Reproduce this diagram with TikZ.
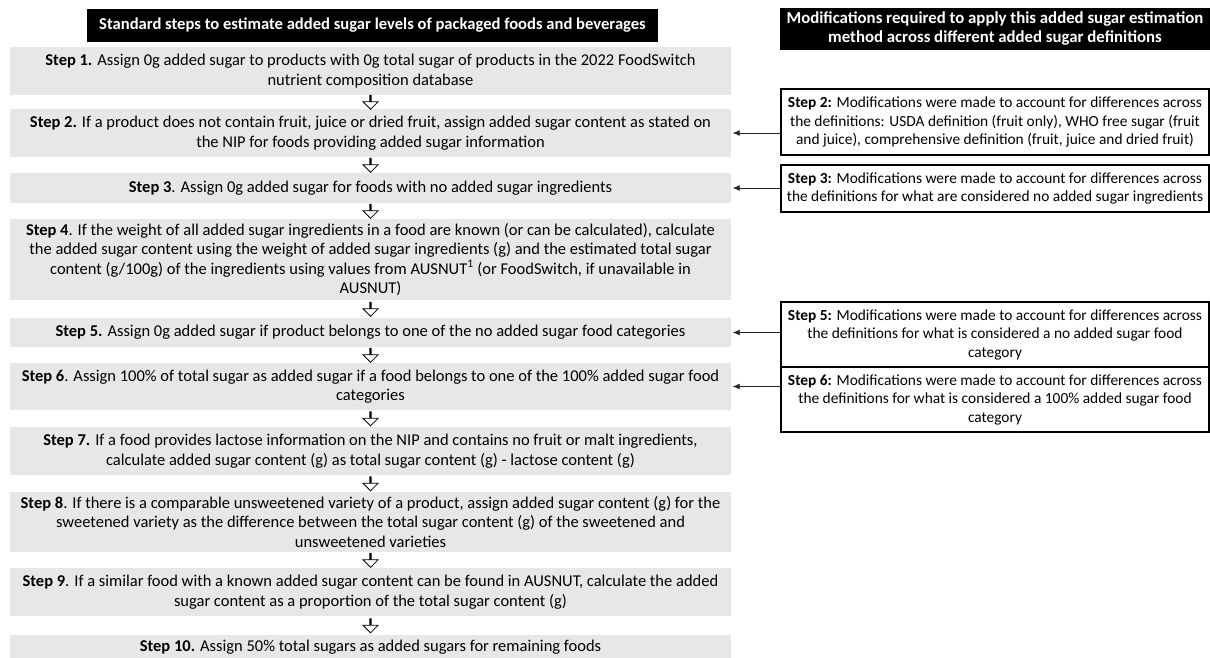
\documentclass[tikz,border=0pt]{standalone}
\usepackage{fontspec}
\setmainfont{Carlito}
\usetikzlibrary{shapes.arrows,arrows.meta}
\definecolor{boxgray}{HTML}{E7E7E7}
\tikzset{
  stepbox/.style={fill=boxgray, inner sep=0pt, align=center, minimum width=721pt,
    font=\fontsize{16.5}{19.5}\selectfont, text=black},
  modbox/.style={draw=black, line width=1.1pt, fill=white, inner sep=0pt, align=center,
    minimum width=428pt, font=\fontsize{15.4}{18.5}\selectfont},
  headbox/.style={fill=black, text=white, inner sep=0pt, align=center},
  downarrow/.style={single arrow, draw=black, fill=white, line width=0.8pt,
    shape border rotate=270, minimum height=14pt, minimum width=15pt,
    single arrow head extend=4.5pt, single arrow tip angle=90, inner sep=0pt},
  sidearrow/.style={draw=black!85, line width=0.8pt, -{Latex[length=7pt,width=6pt]}, shorten >=1.5pt}
}
\newcommand\stepflow[2]{\path (#1.south) -- node[downarrow]{} (#2.north);}
\begin{document}
\begin{tikzpicture}[x=1pt,y=-1pt]
\useasboundingbox (0,0) rectangle (1210,657);
\begin{scope}
\clip (0,0) rectangle (1210,657);
% headers
\node[headbox, minimum width=571pt, minimum height=33pt, font=\bfseries\fontsize{16.6}{19}\selectfont] (lh) at (372.5,25.5)
  {Standard steps to estimate added sugar levels of packaged foods and beverages};
\node[headbox, minimum width=430pt, minimum height=42pt, font=\bfseries\fontsize{16.8}{19}\selectfont] (rh) at (995,29)
  {Modifications required to apply this added sugar estimation\\ method across different added sugar definitions};
% left steps
\node[stepbox, minimum height=48pt] (s1) at (370.5,71)
  {\textbf{Step 1.} Assign 0g added sugar to products with 0g total sugar of products in the 2022 FoodSwitch\\ nutrient composition database};
\node[stepbox, minimum height=48pt] (s2) at (370.5,133)
  {\textbf{Step 2.} If a product does not contain fruit, juice or dried fruit, assign added sugar content as stated on\\ the NIP for foods providing added sugar information};
\node[stepbox, minimum height=30pt] (s3) at (370.5,188)
  {\textbf{Step 3}. Assign 0g added sugar for foods with no added sugar ingredients};
\node[stepbox, minimum height=81pt] (s4) at (370.5,259.5)
  {\textbf{Step 4}. If the weight of all added sugar ingredients in a food are known (or can be calculated), calculate\\ the added sugar content using the weight of added sugar ingredients (g) and the estimated total sugar\\ content (g/100g) of the ingredients using values from AUSNUT\textsuperscript{1} (or FoodSwitch, if unavailable in\\ AUSNUT)};
\node[stepbox, minimum height=29pt] (s5) at (370.5,332.5)
  {\textbf{Step 5.} Assign 0g added sugar if product belongs to one of the no added sugar food categories};
\node[stepbox, minimum height=47pt] (s6) at (370.5,386.5)
  {\textbf{Step 6}. Assign 100\% of total sugar as added sugar if a food belongs to one of the 100\% added sugar food\\ categories};
\node[stepbox, minimum height=48pt] (s7) at (370.5,451)
  {\textbf{Step 7.} If a food provides lactose information on the NIP and contains no fruit or malt ingredients,\\ calculate added sugar content (g) as total sugar content (g) - lactose content (g)};
\node[stepbox, minimum height=60pt] (s8) at (370.5,522)
  {\textbf{Step 8}. If there is a comparable unsweetened variety of a product, assign added sugar content (g) for the\\ sweetened variety as the difference between the total sugar content (g) of the sweetened and\\ unsweetened varieties};
\node[stepbox, minimum height=48pt] (s9) at (370.5,592)
  {\textbf{Step 9}. If a similar food with a known added sugar content can be found in AUSNUT, calculate the added\\ sugar content as a proportion of the total sugar content (g)};
\node[stepbox, minimum height=24pt] (s10) at (370.5,647)
  {\textbf{Step 10.} Assign 50\% total sugars as added sugars for remaining foods};
% down arrows
\stepflow{s1}{s2}
\stepflow{s2}{s3}
\stepflow{s3}{s4}
\stepflow{s4}{s5}
\stepflow{s5}{s6}
\stepflow{s6}{s7}
\stepflow{s7}{s8}
\stepflow{s8}{s9}
\stepflow{s9}{s10}
% right modification boxes
\node[modbox, minimum height=66pt] (r2) at (995,122)
  {\textbf{Step 2:} Modifications were made to account for differences across\\ the definitions: USDA definition (fruit only), WHO free sugar (fruit\\ and juice), comprehensive definition (fruit, juice and dried fruit)};
\node[modbox, minimum height=47pt] (r3) at (995,188.5)
  {\textbf{Step 3:} Modifications were made to account for differences across\\ the definitions for what are considered no added sugar ingredients};
\node[modbox, minimum height=65pt] (r5) at (995,334.5)
  {\textbf{Step 5:} Modifications were made to account for differences across\\ the definitions for what is considered a no added sugar food\\ category};
\node[modbox, minimum height=65pt] (r6) at (995,399.5)
  {\textbf{Step 6:} Modifications were made to account for differences across\\ the definitions for what is considered a 100\% added sugar food\\ category};
% side arrows
\draw[sidearrow] (r2.west |- s2.east) -- (s2.east);
\draw[sidearrow] (r3.west |- s3.east) -- (s3.east);
\draw[sidearrow] (r5.west |- s5.east) -- (s5.east);
\draw[sidearrow] (r6.west |- s6.east) -- (s6.east);
\end{scope}
\end{tikzpicture}
\end{document}
